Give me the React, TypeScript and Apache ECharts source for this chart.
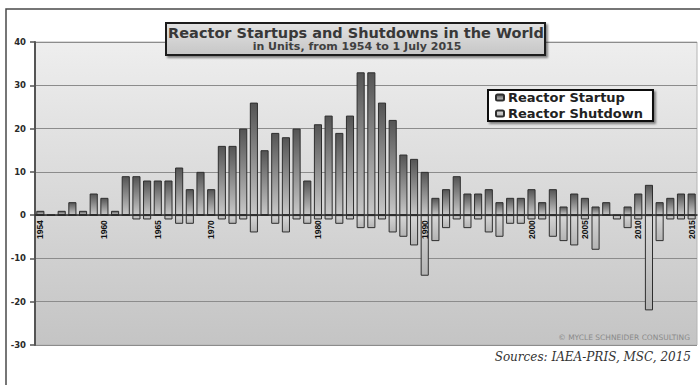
import { useEffect, useRef } from "react";
import * as echarts from "echarts";

// Years on the category axis (1954 to 1 July 2015)
const years = [
  "1954", "1955", "1956", "1957", "1958", "1959", "1960", "1961", "1962", "1963",
  "1964", "1965", "1966", "1967", "1968", "1969", "1970", "1971", "1972", "1973",
  "1974", "1975", "1976", "1977", "1978", "1979", "1980", "1981", "1982", "1983",
  "1984", "1985", "1986", "1987", "1988", "1989", "1990", "1991", "1992", "1993",
  "1994", "1995", "1996", "1997", "1998", "1999", "2000", "2001", "2002", "2003",
  "2004", "2005", "2006", "2007", "2008", "2009", "2010", "2011", "2012", "2013",
  "2014", "2015",
];

// Reactor startups per year
const startups = [
  1, 0, 1, 3, 1, 5, 4, 1, 9, 9,
  8, 8, 8, 11, 6, 10, 6, 16, 16, 20,
  26, 15, 19, 18, 20, 8, 21, 23, 19, 23,
  33, 33, 26, 22, 14, 13, 10, 4, 6, 9,
  5, 5, 6, 3, 4, 4, 6, 3, 6, 2,
  5, 4, 2, 3, 0, 2, 5, 7, 3, 4,
  5, 5,
];

// Reactor shutdowns per year (drawn below zero)
const shutdowns = [
  0, 0, 0, 0, 0, 0, 0, 0, 0, -1,
  -1, 0, -1, -2, -2, 0, 0, -1, -2, -1,
  -4, 0, -2, -4, -1, -2, -1, -1, -2, -1,
  -3, -3, -1, -4, -5, -7, -14, -6, -3, -1,
  -3, -1, -4, -5, -2, -2, -1, -1, -5, -6,
  -7, -1, -8, 0, -1, -3, -1, -22, -6, -1,
  -1, -1,
];

// Years that carry an axis label
const labelledYears = ["1954", "1960", "1965", "1970", "1980", "1990", "2000", "2005", "2010", "2015"];

// Value axis range
const yMin = -30;
const yMax = 40;
const yStep = 10;

const titleText = "Reactor Startups and Shutdowns in the World";
const subtitleText = "in Units, from 1954 to 1 July 2015";
const sourceText = "Sources: IAEA-PRIS, MSC, 2015";
const creditText = "\u00A9 MYCLE SCHNEIDER CONSULTING";

// Plot area placement
const GRID_TOP = 42;
const GRID_BOTTOM = 40;
const CHART_H = 385;

export default function App() {
  const ref = useRef<HTMLDivElement>(null);

  useEffect(() => {
    if (!ref.current) return;
    const chart = echarts.init(ref.current, null, { renderer: "svg" });
    const grad = (a: string, b: string) =>
      new echarts.graphic.LinearGradient(0, 0, 0, 1, [
        { offset: 0, color: a },
        { offset: 1, color: b },
      ]);

    // lift the category axis (line + labels) from the plot bottom up to the zero line
    const plotH = CHART_H - GRID_TOP - GRID_BOTTOM;
    const zeroLift = (plotH * (0 - yMin)) / (yMax - yMin);

    chart.setOption({
      animation: false,
      backgroundColor: "#ffffff",
      grid: {
        left: 35,
        right: 3,
        top: GRID_TOP,
        bottom: GRID_BOTTOM,
        show: true,
        backgroundColor: grad("#eeeeee", "#c4c4c4"),
        borderColor: "#b4b4b4",
        borderWidth: 1,
      },
      legend: {
        data: ["Reactor Startup", "Reactor Shutdown"],
        orient: "vertical",
        left: 488,
        top: 90,
        padding: [0, 10, 0, 7],
        itemGap: 1,
        itemWidth: 8,
        itemHeight: 6,
        backgroundColor: "#ffffff",
        borderColor: "#111111",
        borderWidth: 2,
        shadowColor: "rgba(0,0,0,0.45)",
        shadowBlur: 2,
        shadowOffsetX: 2,
        shadowOffsetY: 2,
        textStyle: {
          fontFamily: "DejaVu Sans",
          fontWeight: "bold",
          fontSize: 13,
          lineHeight: 15,
          color: "#222222",
          padding: [0, 0, 0, -1],
        },
      },
      xAxis: {
        type: "category",
        data: years,
        z: 4,
        offset: -zeroLift,
        axisLine: { onZero: false, lineStyle: { color: "#2a2a2a", width: 1.5 } },
        axisTick: { show: false },
        axisLabel: {
          rotate: 90,
          margin: 5,
          fontFamily: "Liberation Sans",
          fontWeight: "bold",
          fontSize: 8.5,
          color: "#111111",
          interval: (_i: number, v: string) => labelledYears.includes(v),
        },
        splitLine: { show: false },
      },
      yAxis: {
        type: "value",
        min: yMin,
        max: yMax,
        interval: yStep,
        axisLine: { show: true, lineStyle: { color: "#555555", width: 2 } },
        axisTick: { show: true, length: 5, lineStyle: { color: "#555555", width: 1.5 } },
        axisLabel: {
          margin: 9,
          fontFamily: "DejaVu Sans",
          fontWeight: "bold",
          fontSize: 8.5,
          color: "#2a2a2a",
        },
        splitLine: { lineStyle: { color: "#8c8c8c", width: 1.2 } },
      },
      series: [
        {
          name: "Reactor Startup",
          type: "bar",
          data: startups,
          barWidth: "76%",
          barGap: "-100%",
          itemStyle: {
            color: grad("#545454", "#c8c8c8"),
            borderColor: "#2e2e2e",
            borderWidth: 1,
          },
        },
        {
          name: "Reactor Shutdown",
          type: "bar",
          data: shutdowns,
          barWidth: "76%",
          barGap: "-100%",
          itemStyle: {
            color: grad("#d6d6d6", "#b4b4b4"),
            borderColor: "#2e2e2e",
            borderWidth: 1,
          },
        },
      ],
      graphic: [
        {
          type: "polyline",
          shape: { points: [[6, 385], [6, 9], [700, 9]] },
          style: { stroke: "#4a4a4a", lineWidth: 1.5, fill: "none" },
          z: 10,
        },
        {
          type: "rect",
          shape: { x: 166, y: 23, width: 379, height: 32 },
          style: {
            fill: grad("#e2e2e2", "#c6c6c6"),
            stroke: "#1e1e1e",
            lineWidth: 2,
            shadowColor: "rgba(0,0,0,0.45)",
            shadowBlur: 2,
            shadowOffsetX: 2,
            shadowOffsetY: 2,
          },
          z: 10,
        },
        {
          type: "text",
          x: 356,
          y: 33,
          style: {
            text: titleText,
            align: "center",
            verticalAlign: "middle",
            fontFamily: "DejaVu Sans",
            fontWeight: "bold",
            fontSize: 14.5,
            fill: "#383838",
          },
          z: 11,
        },
        {
          type: "text",
          x: 357,
          y: 46.5,
          style: {
            text: subtitleText,
            align: "center",
            verticalAlign: "middle",
            fontFamily: "DejaVu Sans",
            fontWeight: "bold",
            fontSize: 11,
            fill: "#404040",
          },
          z: 11,
        },
        {
          type: "text",
          x: 690,
          y: 337,
          style: {
            text: creditText,
            align: "right",
            verticalAlign: "middle",
            fontFamily: "DejaVu Sans",
            fontSize: 7.5,
            fill: "#8a8a8a",
          },
          z: 11,
        },
        {
          type: "text",
          x: 691,
          y: 357,
          style: {
            text: sourceText,
            align: "right",
            verticalAlign: "middle",
            fontFamily: "DejaVu Serif",
            fontStyle: "italic",
            fontSize: 12,
            fill: "#333333",
          },
          z: 11,
        },
      ],
    });

    return () => chart.dispose();
  }, []);

  return (
    <div
      ref={ref}
      style={{ position: "fixed", left: 0, top: 0, width: 700, height: 385, background: "#ffffff" }}
    />
  );
}
